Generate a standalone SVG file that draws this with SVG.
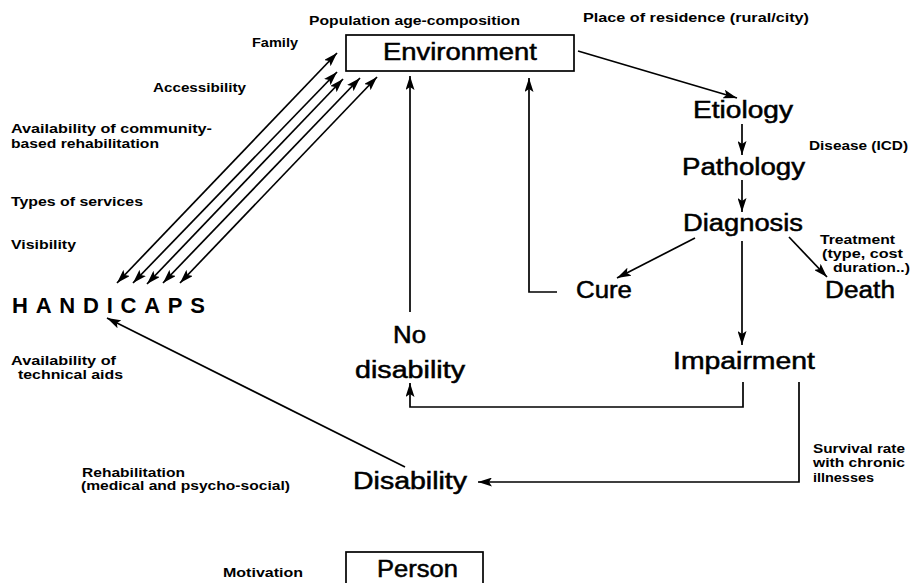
<svg xmlns="http://www.w3.org/2000/svg" width="911" height="583" viewBox="0 0 911 583">
<defs>
<marker id="ah" viewBox="0 0 14 9" refX="14" refY="4.5" markerWidth="14" markerHeight="9" markerUnits="userSpaceOnUse" orient="auto-start-reverse">
<path d="M0,0 L14,4.5 L0,9 L3,4.5 Z" fill="#000"/>
</marker>
<style>
.big{font-family:"Liberation Sans",Arial,sans-serif;font-size:23px;fill:#000;stroke:#000;stroke-width:0.5}
.hc{font-family:"Liberation Sans",Arial,sans-serif;font-size:22px;font-weight:bold;fill:#000}
.sm{font-family:"Liberation Sans",Arial,sans-serif;font-size:12.5px;font-weight:bold;fill:#000}
.ln{stroke:#000;stroke-width:1.7;fill:none}
.box{stroke:#000;stroke-width:1.7;fill:#fff}
</style>
</defs>
<rect width="911" height="583" fill="#fff"/>
<g id="connectors">
<line class="ln" x1="578" y1="51" x2="737" y2="98" marker-end="url(#ah)"/>
<line class="ln" x1="742" y1="124" x2="742" y2="155" marker-end="url(#ah)"/>
<line class="ln" x1="742" y1="180" x2="742" y2="212" marker-end="url(#ah)"/>
<line class="ln" x1="695" y1="238" x2="617" y2="278" marker-end="url(#ah)"/>
<line class="ln" x1="789" y1="237" x2="827" y2="277" marker-end="url(#ah)"/>
<line class="ln" x1="742" y1="241" x2="742" y2="345" marker-end="url(#ah)"/>
<polyline class="ln" points="557,292 529,292 529,78" marker-end="url(#ah)"/>
<line class="ln" x1="410" y1="312" x2="410" y2="76" marker-end="url(#ah)"/>
<polyline class="ln" points="743,382 743,407 410,407 410,383" marker-end="url(#ah)"/>
<polyline class="ln" points="799,382 799,482 478,482" marker-end="url(#ah)"/>
<line class="ln" x1="405" y1="467" x2="107" y2="318" marker-end="url(#ah)"/>
<line class="ln" x1="117" y1="283" x2="337" y2="53" marker-start="url(#ah)" marker-end="url(#ah)"/>
<line class="ln" x1="133" y1="283" x2="337" y2="72" marker-start="url(#ah)" marker-end="url(#ah)"/>
<line class="ln" x1="147" y1="284" x2="343" y2="79" marker-start="url(#ah)" marker-end="url(#ah)"/>
<line class="ln" x1="163" y1="283" x2="360" y2="78" marker-start="url(#ah)" marker-end="url(#ah)"/>
<line class="ln" x1="180" y1="283" x2="377" y2="77" marker-start="url(#ah)" marker-end="url(#ah)"/>
</g>
<g id="environment">
<rect class="box" x="346" y="35" width="228" height="36"/>
<text class="big" x="383" y="60" textLength="154" lengthAdjust="spacingAndGlyphs">Environment</text>
</g>
<g id="etiology"><text class="big" x="693" y="118" textLength="100" lengthAdjust="spacingAndGlyphs">Etiology</text></g>
<g id="pathology"><text class="big" x="682" y="175" textLength="123" lengthAdjust="spacingAndGlyphs">Pathology</text></g>
<g id="diagnosis"><text class="big" x="683" y="231" textLength="120" lengthAdjust="spacingAndGlyphs">Diagnosis</text></g>
<g id="cure"><text class="big" x="576" y="298" textLength="56" lengthAdjust="spacingAndGlyphs">Cure</text></g>
<g id="death"><text class="big" x="825" y="298" textLength="70" lengthAdjust="spacingAndGlyphs">Death</text></g>
<g id="impairment"><text class="big" x="673" y="369" textLength="142" lengthAdjust="spacingAndGlyphs">Impairment</text></g>
<g id="no-disability">
<text class="big" x="393" y="343" textLength="33" lengthAdjust="spacingAndGlyphs">No</text>
<text class="big" x="355" y="378" textLength="110" lengthAdjust="spacingAndGlyphs">disability</text>
</g>
<g id="disability"><text class="big" x="353" y="489" textLength="114" lengthAdjust="spacingAndGlyphs">Disability</text></g>
<g id="handicaps"><text class="hc" x="12" y="313" textLength="193" lengthAdjust="spacing">HANDICAPS</text></g>
<g id="person">
<rect class="box" x="346" y="552" width="137" height="40"/>
<text class="big" x="377" y="577" textLength="81" lengthAdjust="spacingAndGlyphs">Person</text>
</g>
<g id="labels">
<text class="sm" x="309" y="25" textLength="211" lengthAdjust="spacingAndGlyphs">Population age-composition</text>
<text class="sm" x="583" y="22" textLength="226" lengthAdjust="spacingAndGlyphs">Place of residence (rural/city)</text>
<text class="sm" x="252" y="47" textLength="46" lengthAdjust="spacingAndGlyphs">Family</text>
<text class="sm" x="153" y="92" textLength="93" lengthAdjust="spacingAndGlyphs">Accessibility</text>
<text class="sm" x="11" y="133" textLength="201" lengthAdjust="spacingAndGlyphs">Availability of community-</text>
<text class="sm" x="11" y="148" textLength="148" lengthAdjust="spacingAndGlyphs">based rehabilitation</text>
<text class="sm" x="11" y="206" textLength="132" lengthAdjust="spacingAndGlyphs">Types of services</text>
<text class="sm" x="11" y="249" textLength="65" lengthAdjust="spacingAndGlyphs">Visibility</text>
<text class="sm" x="809" y="150" textLength="99" lengthAdjust="spacingAndGlyphs">Disease (ICD)</text>
<text class="sm" x="820" y="244" textLength="75" lengthAdjust="spacingAndGlyphs">Treatment</text>
<text class="sm" x="822" y="258" textLength="81" lengthAdjust="spacingAndGlyphs">(type, cost</text>
<text class="sm" x="833" y="272" textLength="77" lengthAdjust="spacingAndGlyphs">duration..)</text>
<text class="sm" x="11" y="365" textLength="105" lengthAdjust="spacingAndGlyphs">Availability of</text>
<text class="sm" x="18" y="379" textLength="105" lengthAdjust="spacingAndGlyphs">technical aids</text>
<text class="sm" x="82" y="477" textLength="103" lengthAdjust="spacingAndGlyphs">Rehabilitation</text>
<text class="sm" x="81" y="490" textLength="209" lengthAdjust="spacingAndGlyphs">(medical and psycho-social)</text>
<text class="sm" x="813" y="453" textLength="92" lengthAdjust="spacingAndGlyphs">Survival rate</text>
<text class="sm" x="813" y="467" textLength="92" lengthAdjust="spacingAndGlyphs">with chronic</text>
<text class="sm" x="813" y="482" textLength="61" lengthAdjust="spacingAndGlyphs">illnesses</text>
<text class="sm" x="223" y="577" textLength="80" lengthAdjust="spacingAndGlyphs">Motivation</text>
</g>
</svg>
